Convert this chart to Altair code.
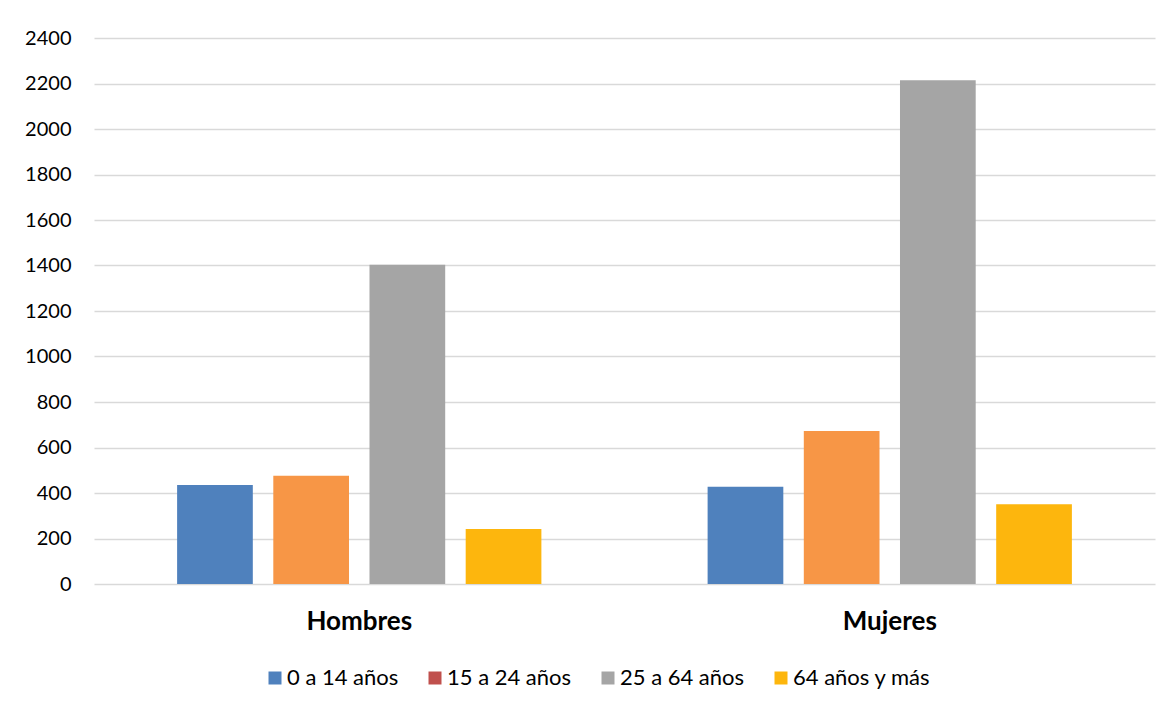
import altair as alt
import pandas as pd

sexos = ["Hombres", "Mujeres"]
grupos = ["0 a 14 años", "15 a 24 años", "25 a 64 años", "64 años y más"]
hombres = [435, 476, 1403, 242]
mujeres = [428, 673, 2214, 351]
colores_barras = ["#4F81BD", "#F79646", "#A5A5A5", "#FDB60D"]
colores_leyenda = ["#4F81BD", "#C0504D", "#A5A5A5", "#FDB60D"]
y_ticks = list(range(0, 2401, 200))

rows = []
for sexo, vals in zip(sexos, [hombres, mujeres]):
    for g, v, c in zip(grupos, vals, colores_barras):
        rows.append({"sexo": sexo, "grupo": g, "valor": v, "color": c})
df = pd.DataFrame(rows)

x = alt.X(
    "sexo:N", sort=sexos,
    scale=alt.Scale(paddingInner=0, paddingOuter=0),
    axis=alt.Axis(title=None, labelAngle=0, labelFont="Lato", labelFontSize=26,
                  labelFontWeight="bold", labelColor="#000000", domain=False,
                  ticks=False, labelPadding=24),
)
xo = alt.XOffset("grupo:N", sort=grupos,
                 scale=alt.Scale(paddingInner=0.213, paddingOuter=0.864))
y = alt.Y(
    "valor:Q",
    scale=alt.Scale(domain=[0, 2400], nice=False),
    axis=alt.Axis(title=None, values=y_ticks, format="d", labelFont="Lato",
                  labelFontSize=20, labelColor="#000000", domain=False, ticks=False,
                  labelPadding=23, gridColor="#D9D9D9", gridWidth=1.5),
)

bars = alt.Chart(df).mark_bar().encode(
    x=x, xOffset=xo, y=y,
    fill=alt.Fill("color:N", scale=None),
)

leg = alt.Chart(df).mark_square(opacity=0, size=1).encode(
    x=x, xOffset=xo, y=y,
    color=alt.Color(
        "grupo:N", sort=grupos,
        scale=alt.Scale(domain=grupos, range=colores_leyenda),
        legend=alt.Legend(title=None, orient="none", legendX=170, legendY=629,
                          direction="horizontal", columns=4, symbolType="square",
                          symbolSize=169, symbolOpacity=1, symbolStrokeWidth=0,
                          labelFont="Lato", labelFontSize=22, labelColor="#000000",
                          labelLimit=400, columnPadding=25, labelOffset=1),
    ),
)

chart = alt.layer(bars, leg).properties(
    width=1061, height=546,
    autosize=alt.AutoSizeParams(type="none"),
    padding={"left": 86, "top": 30, "right": 6, "bottom": 116},
    background="white",
).configure_view(stroke=None)

chart.save("out.html", embed_options={"renderer": "svg", "actions": False})
